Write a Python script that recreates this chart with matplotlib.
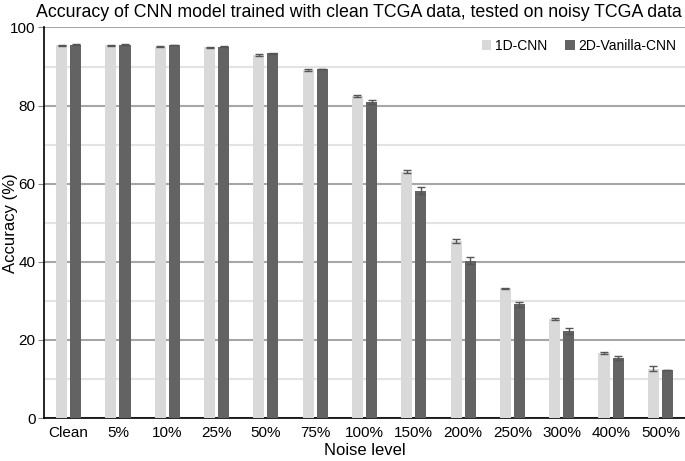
import matplotlib
matplotlib.use("Agg")
import matplotlib.pyplot as plt
import numpy as np

plt.rcParams['font.family'] = ['Liberation Sans', 'DejaVu Sans']

categories = ["Clean", "5%", "10%", "25%", "50%", "75%", "100%", "150%", "200%", "250%", "300%", "400%", "500%"]
cnn1d = [95.4, 95.4, 95.1, 94.9, 93.0, 89.1, 82.5, 63.1, 45.4, 33.2, 25.4, 16.7, 12.6]
cnn1d_err = [0.2, 0.2, 0.2, 0.2, 0.2, 0.2, 0.2, 0.3, 0.5, 0.2, 0.2, 0.3, 0.6]
cnn2d = [95.6, 95.6, 95.5, 95.1, 93.4, 89.4, 80.9, 58.2, 40.3, 29.1, 22.3, 15.3, 12.3]
cnn2d_err = [0.1, 0.1, 0.1, 0.1, 0.1, 0.1, 0.5, 0.9, 0.9, 0.7, 0.7, 0.5, 0.1]
series_names = ["1D-CNN", "2D-Vanilla-CNN"]
yticks = [0, 20, 40, 60, 80, 100]

fig = plt.figure(figsize=(6.85, 4.61), dpi=100)
ax = fig.add_axes([44/685, 1-418/461, 1-44/685, (418-27.5)/461])

x = np.arange(len(categories))
w = 0.225
gap = 0.03
c1 = "#d9d9d9"
c2 = "#636363"
ax.bar(x - w/2 - gap, cnn1d, w, color=c1, label=series_names[0], zorder=3,
       yerr=cnn1d_err, error_kw=dict(ecolor="#555555", elinewidth=1, capsize=3, capthick=1, zorder=4))
ax.bar(x + w/2 + gap, cnn2d, w, color=c2, label=series_names[1], zorder=3,
       yerr=cnn2d_err, error_kw=dict(ecolor="#555555", elinewidth=1, capsize=3, capthick=1, zorder=4))

ax.set_xlim(-0.5, len(categories) - 0.5)
ax.set_ylim(0, 100)
ax.set_yticks(yticks)
ax.set_yticks(np.arange(10, 100, 20), minor=True)
ax.set_xticks(x)
ax.set_xticklabels(categories, fontsize=11)
ax.tick_params(axis='x', length=0, pad=6)
ax.tick_params(axis='y', which='major', length=4, color="#888888", labelsize=11, pad=2)
ax.tick_params(axis='y', which='minor', length=0)
ax.set_axisbelow(True)
ax.grid(axis='y', which='major', color="#a6a6a6", linewidth=1.5)
ax.grid(axis='y', which='minor', color="#e3e3e3", linewidth=1.5)

for s in ["top", "right"]:
    ax.spines[s].set_visible(False)
ax.spines["left"].set_color("black")
ax.spines["bottom"].set_color("black")
ax.spines["left"].set_linewidth(1.2)
ax.spines["bottom"].set_linewidth(1.2)

ax.set_xlabel("Noise level", fontsize=12, labelpad=2)
ax.set_ylabel("Accuracy (%)", fontsize=12)
ax.yaxis.set_label_coords(-0.041, 0.5)
fig.text(0.524, 0.973, "Accuracy of CNN model trained with clean TCGA data, tested on noisy TCGA data",
         ha="center", va="center", fontsize=12.75)

ax.legend(loc="upper right", ncol=2, frameon=False, fontsize=10, handlelength=0.7,
          handleheight=0.7, columnspacing=1.3, handletextpad=0.25, borderaxespad=0,
          bbox_to_anchor=(0.995, 0.985))

fig.savefig("out.png", dpi=100)
